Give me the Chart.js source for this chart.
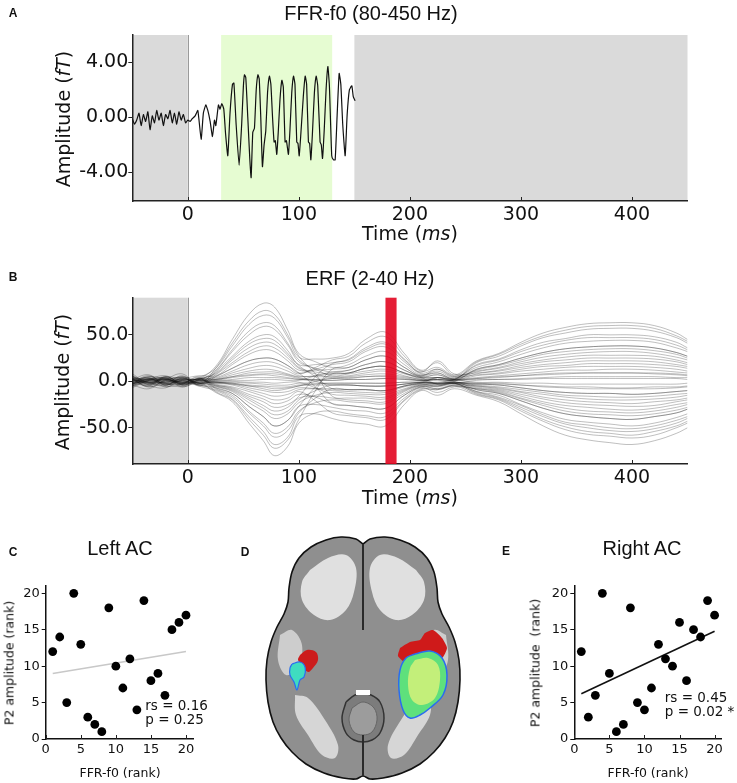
<!DOCTYPE html>
<html>
<head>
<meta charset="utf-8">
<script src="https://cdn.jsdelivr.net/npm/chart.js@4.4.1/dist/chart.umd.min.js"></script>
<style>
  body { margin: 0; background: #fff; }
  #fig { position: relative; width: 737px; height: 783px; overflow: hidden; }
  canvas { position: absolute; }
  .t { position: absolute; transform: translate(-50%, -50%); white-space: nowrap; color: #111; }
  .rot { transform: translate(-50%, -50%) rotate(-90deg); }
  .letter { font: bold 12px 'Liberation Sans', Arial, sans-serif; }
  .title { font: 20px 'Liberation Sans', Arial, sans-serif; }
  .ax { font: 19px 'DejaVu Sans', sans-serif; }
  .axs { font: 12.5px 'DejaVu Sans', sans-serif; }
</style>
</head>
<body>
<div id="fig">
  <canvas id="cA" style="left:0;top:0" width="737" height="250"></canvas>
  <canvas id="cB" style="left:0;top:250px" width="737" height="280"></canvas>
  <canvas id="cC" style="left:0;top:520px" width="245" height="263"></canvas>
  <canvas id="cD" style="left:250px;top:530px" width="240" height="253"></canvas>
  <canvas id="cE" style="left:490px;top:520px" width="247" height="263"></canvas>

  <div class="t letter" style="left:13px;top:13px">A</div>
  <div class="t title" style="left:371px;top:13px">FFR-f0 (80-450 Hz)</div>
  <div class="t ax rot" style="left:63px;top:119px">Amplitude (<i>fT</i>)</div>
  <div class="t ax" style="left:410px;top:233px">Time (<i>ms</i>)</div>

  <div class="t letter" style="left:13px;top:277px">B</div>
  <div class="t title" style="left:370px;top:278px">ERF (2-40 Hz)</div>
  <div class="t ax rot" style="left:62px;top:382px">Amplitude (<i>fT</i>)</div>
  <div class="t ax" style="left:410px;top:497px">Time (<i>ms</i>)</div>

  <div class="t letter" style="left:13px;top:552px">C</div>
  <div class="t title" style="left:120px;top:548px">Left AC</div>
  <div class="t axs rot" style="left:9px;top:663px">P2 amplitude (rank)</div>
  <div class="t axs" style="left:120px;top:772px">FFR-f0 (rank)</div>

  <div class="t letter" style="left:245px;top:552px">D</div>

  <div class="t letter" style="left:506px;top:551px">E</div>
  <div class="t title" style="left:642px;top:548px">Right AC</div>
  <div class="t axs rot" style="left:535px;top:663px">P2 amplitude&nbsp; (rank)</div>
  <div class="t axs" style="left:648px;top:772px">FFR-f0 (rank)</div>
</div>

<script>
// ── Panel A: FFR-f0 grand average (ms, fT) ──
const ffrTime = [-50,-48,-46,-44,-42,-40,-38,-36,-34,-32,-30,-28,-26,-24,-22,-20,-18,-16,-14,-12,-10,-8,-6,-4,-2,0,
  2,4,6.6,9,12,14,16.2,18,20.1,22.2,24,25.2,27.6,29,30.6,32.4,34,36,38,40.2,41.5,43.5,46.2,48.5,
  50,51,52.2,54,55.8,57,58.5,60,61.6,63.1,64.3,65.7,67.2,68.7,70.2,71.8,73.5,74.8,76.3,77.7,
  78.8,80.1,81.5,83,84.7,86,87.6,88.8,90.6,92,93.6,95.2,96.5,98.1,99.2,100.3,101.8,104,105.7,107,
  108.6,109.7,110.8,112.2,114,115.6,117,119.1,120.2,121.3,122.8,124.5,126.1,127.5,129.6,131.2,132.7,134.5,136.3,137.8,
  139.5,141.7,143.5,145.5,147.7,149,150.7];
const ffrAmp = [-0.1,-0.5,-0.2,0.3,-0.6,0.2,-0.3,0.4,-0.9,0.1,-0.4,0.5,-0.2,0.3,-0.6,0.2,-0.1,0.5,-0.4,0.3,-0.5,0.4,-0.2,0.2,-0.4,-0.2,
  -0.3,-0.1,0.1,0.5,-1.6,0.3,0.9,0.5,-0.3,-1.4,-0.2,-0.6,0.9,0.6,1.0,0.6,-1.2,-2.8,0.3,2.4,2.5,-0.5,-3.5,-0.5,
  2.2,3.1,2.9,0,-3.0,-4.4,-1.1,-0.8,2.0,3.1,2.8,0,-3.6,-2.0,-1.0,1.8,3.0,2.4,0,-1.8,
  -1.7,-2.7,-1.0,1.3,2.7,2.2,-1.8,-1.7,-2.7,-0.9,1.8,3.0,2.4,-1.8,-1.9,-2.8,-1.2,1.5,3.0,2.4,
  -1.8,-1.9,-3.1,-1.2,1.8,3.0,2.3,-1.8,-2.0,-3.0,-1.0,2.0,3.7,2.3,-2.8,-3.1,-3.1,0.2,3.2,2.4,
  -0.5,-2.8,0.2,2.0,2.3,1.5,1.2];
const ffrYTicks = [-4, 0, 4];

// ── Panel B: ERF, one array per sensor (fT) ──
const erfTime = [-50,-35,-20,-5,10,25,40,55,68,78,90,100,115,130,145,160,178,195,210,225,240,260,280,300,320,340,360,380,400,420,440,450];
const erfChannels = [
  [4,-3,5,2,3,16,45,72,84,80,55,30,21,15,18,27,32,18,7,11,4,15,21,29,36,41,43,44,44,42,36,32],
  [-3,5,-2,-6,-2,-12,-22,-45,-64,-80,-70,-45,-34,-32,-35,-37,-38,-20,-8,-9,-5,-14,-20,-32,-43,-52,-57,-59,-61,-58,-50,-45],
  [-5,2,6,-3,4,14,38,61,71,68,47,26,24,25,30,45,53,30,12,20,7,22,30,42,52,58,62,63,63,60,52,45],
  [6,-4,-7,3,-5,-10,-19,-38,-54,-68,-60,-38,-35,-40,-44,-46,-48,-25,-10,-15,-8,-15,-22,-35,-48,-58,-63,-66,-68,-64,-56,-50],
  [2,7,-4,5,-1,11,32,50,59,56,39,21,14,10,12,18,21,12,5,7,2,12,17,23,29,32,34,35,35,33,29,25],
  [-7,1,4,-5,3,-8,-15,-32,-45,-56,-49,-32,-23,-20,-22,-23,-24,-13,-5,-6,-3,-9,-13,-21,-29,-35,-38,-40,-41,-38,-34,-30],
  [3,-6,2,8,-4,10,27,43,50,48,33,18,18,20,24,36,42,24,10,22,8,9,12,17,21,23,25,25,25,24,21,18],
  [-2,6,-5,-3,5,-7,-13,-27,-38,-48,-42,-27,-25,-28,-31,-32,-34,-18,-7,-12,-6,-8,-11,-18,-24,-29,-32,-33,-34,-32,-28,-25],
  [8,-2,3,-6,2,8,23,36,42,40,28,15,10,8,9,14,16,9,4,4,2,20,27,38,47,52,56,57,57,54,47,41],
  [-4,-8,1,4,-3,-6,-11,-23,-32,-40,-35,-23,-15,-12,-13,-14,-14,-8,-3,-3,-2,-13,-19,-30,-41,-49,-54,-56,-58,-54,-48,-43],
  [1,4,-6,2,6,6,18,29,34,32,22,12,12,13,15,23,27,15,6,13,5,7,9,13,16,17,19,19,19,18,16,14],
  [5,-1,3,-4,-2,-5,-9,-18,-26,-32,-28,-18,-16,-18,-20,-21,-22,-11,-5,-8,-4,-5,-8,-12,-17,-20,-22,-23,-24,-22,-20,-18],
  [-3,2,-1,5,-5,5,14,22,25,24,17,9,13,18,21,32,37,21,8,9,3,17,23,32,39,44,47,47,47,45,39,34],
  [2,-5,4,-1,3,-4,-7,-14,-19,-24,-21,-14,-17,-24,-26,-28,-29,-15,-6,-5,-2,-11,-15,-25,-34,-41,-44,-46,-48,-45,-39,-35],
  [-1,3,-4,1,2,3,9,14,17,16,11,6,5,5,6,9,11,6,2,4,2,10,14,19,23,26,28,28,28,27,23,20],
  [3,-2,2,-3,-1,-2,-4,-9,-13,-16,-14,-9,-8,-8,-9,-9,-10,-5,-2,-3,-2,-6,-9,-14,-19,-23,-25,-26,-27,-26,-22,-20],
  [-2,1,3,-2,0,2,7,11,13,12,8,5,6,8,9,14,16,9,4,7,2,3,5,6,8,9,9,9,9,9,8,7],
  [1,-3,0,2,-2,-2,-3,-7,-10,-12,-11,-7,-8,-10,-11,-12,-12,-6,-3,-5,-2,-3,-4,-7,-10,-12,-13,-13,-14,-13,-11,-10],
  [0,2,-1,1,-1,1,4,6,7,6,4,2,2,3,3,5,5,3,1,2,1,2,2,3,4,5,5,5,5,5,4,4],
  [-1,-1,2,0,1,-1,-2,-4,-5,-6,-6,-4,-4,-4,-4,-5,-5,-3,-1,-2,-1,-2,-2,-4,-5,-6,-6,-7,-7,-6,-6,-5],
  [-4,3,-2,6,-3,14,41,65,76,72,50,27,8,-16,-18,-18,-19,-10,-4,-5,-2,-7,-10,-16,-22,-26,-28,-30,-31,-29,-25,-23],
  [3,-4,5,-2,4,-11,-20,-41,-58,-72,-63,-41,-10,13,15,23,27,15,6,9,3,13,18,25,31,35,37,38,38,36,31,27],
  [-6,1,4,-3,2,9,25,40,46,44,30,17,5,-8,-9,-9,-10,-5,-2,4,2,18,24,34,42,46,50,50,50,48,42,36],
  [5,-2,-4,3,-4,-7,-13,-27,-38,-48,-42,-27,-6,8,9,14,16,9,4,-3,-2,-11,-17,-26,-36,-44,-47,-50,-51,-48,-42,-38],
  [-3,5,2,-4,1,5,14,22,25,24,17,9,-6,-24,-26,-28,-29,-15,-6,-8,-4,-12,-18,-28,-38,-46,-50,-53,-54,-51,-45,-40],
  [2,-6,1,4,-2,-4,-8,-16,-22,-28,-25,-16,5,19,23,34,40,23,9,13,5,21,29,40,49,55,59,60,60,57,49,43],
  [1,0,-2,1,2,1,2,4,4,4,3,2,1,1,2,2,3,2,1,2,1,6,8,11,13,15,16,16,16,15,13,11],
  [-2,1,1,-1,-1,-1,-1,-2,-3,-4,-4,-2,-2,-2,-2,-2,-2,-1,-1,-2,-1,-4,-6,-9,-12,-15,-16,-17,-17,-16,-14,-13],
  [3,-1,-3,2,1,2,5,9,10,10,7,4,0,-4,-4,-5,-5,-3,-1,-2,-1,-2,-3,-4,-6,-7,-8,-8,-8,-8,-7,-6],
  [-3,2,1,-2,0,-1,-2,-5,-6,-8,-7,-5,0,3,4,5,6,4,1,2,1,3,4,6,7,8,9,9,9,8,7,6],
  [6,-1,-5,4,2,12,34,54,63,60,41,23,13,6,8,11,13,8,3,2,1,8,11,15,18,20,22,22,22,21,18,16],
  [-5,3,2,-1,-4,-9,-17,-34,-48,-60,-53,-34,-18,-8,-9,-9,-10,-5,-2,-2,-1,-5,-7,-11,-14,-17,-19,-20,-20,-19,-17,-15],
  [0,4,-3,-2,3,4,11,18,21,20,14,8,15,23,27,41,48,27,11,15,6,11,15,21,26,29,31,32,32,30,26,23],
  [2,-2,5,-4,1,-3,-6,-11,-16,-20,-18,-11,-21,-34,-37,-39,-41,-21,-9,-9,-5,-8,-12,-19,-26,-32,-35,-36,-37,-35,-31,-28],
  [-2,-4,3,1,-3,7,20,32,38,36,25,14,8,4,5,7,8,5,2,-3,-2,-3,-4,-7,-10,-12,-13,-13,-14,-13,-11,-10],
  [4,1,-2,-3,2,-5,-10,-20,-29,-36,-32,-20,-10,-4,-4,-5,-5,-3,-1,4,2,4,6,8,10,12,12,13,13,12,10,9],
  [-1,3,0,-2,1,0,1,1,2,2,1,1,6,10,12,18,21,12,5,4,2,-1,-1,-2,-2,-3,-3,-3,-3,-3,-3,-2],
  [2,-1,-1,3,-2,0,0,-1,-1,-2,-1,-1,-7,-14,-15,-16,-17,-9,-4,-3,-2,1,2,2,3,3,3,3,3,3,3,2],
  [-4,0,2,-1,3,2,5,7,8,8,6,3,2,1,2,2,3,2,1,1,0,13,18,25,31,35,37,38,38,36,31,27],
  [3,2,-3,0,-2,-1,-3,-5,-8,-10,-8,-5,-3,-2,-2,-2,-2,-1,-1,-1,0,-9,-13,-21,-29,-35,-38,-40,-41,-38,-34,-30]
];
const erfYTicks = [-50, 0, 50];
const timeTicks = [0, 100, 200, 300, 400];

// analysis windows (ms)
const baselineWin = [-50, 0];
const ffrWin = [30, 130];
const postWin = [150, 450];
const p2Win = [178, 188];

// ── Panels C and E: rank correlations ──
const ffrRank = [1,2,3,4,5,6,7,8,9,10,11,12,13,14,15,16,17,18,19,20];
const leftP2Rank = [12,14,5,20,13,3,2,1,18,10,7,11,4,19,8,9,6,15,16,17];
const rightP2Rank = [12,3,6,20,9,1,2,18,5,4,7,13,11,10,16,8,15,14,19,17];
const fitX = [1, 20];
const leftFitY = [9.0, 12.0];
const rightFitY = [6.2, 14.8];
const rankTicks = [0, 5, 10, 15, 20];
const leftStats = ['rs = 0.16', 'p = 0.25'];
const rightStats = ['rs = 0.45', 'p = 0.02 *'];

// ── Panel D: axial slice outline and clusters (image pixels) ──
const brainX = [113,120,135,150,165,177,184,187,188,192,199,205,209,210,208,203,195,184,170,152,133,120,113,106,93,74,56,42,31,23,18,16,17,21,27,34,38,39,42,49,61,76,91,106,113];
const brainY = [14,9,7,10,17,28,42,58,72,84,97,112,130,150,172,192,208,222,234,243,248,249,246,249,248,243,234,222,208,192,172,150,130,112,97,84,72,58,42,28,17,10,7,9,14];
const wmLeftX = [60,78,96,106,104,96,80,64,52,52,60];
const wmLeftY = [40,28,25,38,62,80,90,85,70,52,40];
const wmRightX = [166,148,130,120,122,130,146,162,174,174,166];
const wmRightY = [40,28,25,38,62,80,90,85,70,52,40];
const wmTempLX = [30,42,52,48,36,28,30];
const wmTempLY = [105,100,115,138,145,130,105];
const wmTempRX = [196,184,174,178,190,198,196];
const wmTempRY = [105,100,115,138,145,130,105];
const wmOccLX = [45,58,75,88,85,72,58,46,45];
const wmOccLY = [165,168,190,215,228,225,205,185,165];
const wmOccRX = [181,168,151,138,141,154,168,180,181];
const wmOccRY = [165,168,190,215,228,225,205,185,165];
const midbrainX = [96,105,113,121,130,134,130,122,113,104,96,92,96];
const midbrainY = [172,165,164,165,172,188,203,210,212,210,203,188,172];
const midInnerX = [102,113,124,127,122,113,104,99,102];
const midInnerY = [178,172,178,190,202,205,202,190,178];
const fissureTopX = [113,113];
const fissureTopY = [14,100];
const fissureBotX = [113,113];
const fissureBotY = [205,246];
const notchX = [106,120,120,106,106];
const notchY = [160,160,165,165,160];
const redLX = [50,57,66,68,63,58,52,48,50];
const redLY = [125,120,122,130,138,142,135,130,125];
const cyanLX = [42,50,55,54,50,47,44,40,40,42];
const cyanLY = [134,132,137,147,150,160,152,145,138,134];
const redRX = [150,160,170,175,183,192,197,192,180,165,155,148,150];
const redRY = [118,112,110,103,100,108,118,128,125,128,132,126,118];
const greenRX = [165,180,192,197,193,180,170,160,153,149,150,156,165];
const greenRY = [124,121,128,145,165,178,185,188,180,160,140,128,124];
const yellowRX = [165,178,188,190,185,172,162,158,160,165];
const yellowRY = [130,128,135,150,168,175,170,155,138,130];

const xy = (xs, ys) => xs.map((x, i) => ({x, y: ys[i]}));

// ── plugins ──
// shaded windows go under the axes; the P2 window sits over the traces
const bands = {
  id: 'bands',
  beforeDraw(chart, args, opts) {
    const {ctx, chartArea: {top, bottom}, scales: {x}} = chart;
    ctx.save();
    (opts.under || []).forEach(b => {
      const x0 = x.getPixelForValue(b.range[0]), x1 = x.getPixelForValue(b.range[1]);
      ctx.fillStyle = b.color;
      ctx.fillRect(x0, top, x1 - x0, bottom - top);
    });
    const z = Math.round(x.getPixelForValue(0)) + 0.5;
    ctx.strokeStyle = '#9a9a9a'; ctx.lineWidth = 1;
    ctx.beginPath(); ctx.moveTo(z, top); ctx.lineTo(z, bottom); ctx.stroke();
    ctx.restore();
  },
  afterDatasetsDraw(chart, args, opts) {
    const {ctx, chartArea: {top, bottom}, scales: {x}} = chart;
    ctx.save();
    (opts.over || []).forEach(b => {
      const x0 = x.getPixelForValue(b.range[0]), x1 = x.getPixelForValue(b.range[1]);
      ctx.fillStyle = b.color;
      ctx.fillRect(x0, top, x1 - x0, bottom - top);
    });
    ctx.restore();
  }
};

const innerTicks = {
  id: 'innerTicks',
  defaults: { len: 4 },
  afterDraw(chart, args, opts) {
    const {ctx, chartArea, scales: {x}} = chart;
    ctx.save();
    ctx.strokeStyle = '#222'; ctx.lineWidth = 1;
    x.ticks.forEach(t => {
      const px = Math.round(x.getPixelForValue(t.value)) + 0.5;
      ctx.beginPath(); ctx.moveTo(px, chartArea.bottom); ctx.lineTo(px, chartArea.bottom - opts.len); ctx.stroke();
    });
    ctx.restore();
  }
};

const statText = {
  id: 'statText',
  afterDatasetsDraw(chart, args, opts) {
    if (!opts.lines) return;
    const {ctx, scales: {x, y}} = chart;
    ctx.save();
    ctx.font = "13.5px 'DejaVu Sans'";
    ctx.fillStyle = '#111'; ctx.textAlign = 'left'; ctx.textBaseline = 'middle';
    opts.lines.forEach((l, i) => ctx.fillText(l, x.getPixelForValue(opts.x), y.getPixelForValue(opts.y[i])));
    ctx.restore();
  }
};

const waveFont = { family: 'DejaVu Sans', size: 19 };
const rankFont = { family: 'DejaVu Sans', size: 13 };

function waveOptions(padTop, axisH, yMin, yMax, yTicks, digits, under, over) {
  return {
    responsive: false, animation: false,
    layout: { padding: { top: padTop, right: 49.5, left: 0, bottom: 0 } },
    plugins: { legend: { display: false }, tooltip: { enabled: false }, bands: { under, over } },
    scales: {
      x: {
        type: 'linear', min: -50, max: 450,
        afterBuildTicks: s => { s.ticks = timeTicks.map(v => ({value: v})); },
        afterFit: s => { s.height = axisH; },
        grid: { display: false, drawTicks: false },
        border: { display: true, color: '#222', width: 1.5 },
        ticks: { font: waveFont, color: '#111', padding: 3, maxRotation: 0 }
      },
      y: {
        min: yMin, max: yMax,
        afterBuildTicks: s => { s.ticks = yTicks.map(v => ({value: v})); },
        afterFit: s => { s.width = 132.3; },
        grid: { display: true, drawOnChartArea: false, drawTicks: true, tickLength: 4, color: '#222' },
        border: { display: true, color: '#222', width: 1.5 },
        ticks: { font: waveFont, color: '#111', padding: 0, callback: v => v.toFixed(digits) }
      }
    }
  };
}

// A
new Chart(document.getElementById('cA'), {
  type: 'scatter',
  data: { datasets: [{
    data: xy(ffrTime, ffrAmp), showLine: true, borderColor: '#111', borderWidth: 1.2,
    pointRadius: 0, tension: 0.15
  }] },
  options: waveOptions(35, 49, -6.1, 6, ffrYTicks, 2, [
    { range: baselineWin, color: '#dadada' },
    { range: ffrWin, color: '#e6fcd2' },
    { range: postWin, color: '#dadada' }
  ], []),
  plugins: [bands, innerTicks]
});

// B
new Chart(document.getElementById('cB'), {
  type: 'scatter',
  data: { datasets: erfChannels.map(ch => ({
    data: xy(erfTime, ch), showLine: true, borderColor: 'rgba(20,20,20,0.34)', borderWidth: 0.8,
    pointRadius: 0, tension: 0.4
  })) },
  options: waveOptions(47.7, 66, -89, 90, erfYTicks, 1,
    [{ range: baselineWin, color: '#dadada' }],
    [{ range: p2Win, color: 'rgba(226,6,32,0.9)' }]),
  plugins: [bands, innerTicks]
});

// C and E
function rankChart(id, p2, fitY, yAxisW, padRight, stats, fitColor) {
  new Chart(document.getElementById(id), {
    type: 'scatter',
    data: { datasets: [
      { data: xy(ffrRank, p2), pointRadius: 4.4, pointHoverRadius: 4.4, backgroundColor: '#000', borderWidth: 0, order: 1 },
      { data: xy(fitX, fitY), showLine: true, pointRadius: 0, borderColor: fitColor, borderWidth: 1.6, order: 2 }
    ] },
    options: {
      responsive: false, animation: false,
      layout: { padding: { top: 66, right: padRight, left: 0, bottom: 0 } },
      plugins: { legend: { display: false }, tooltip: { enabled: false }, statText: stats },
      scales: {
        x: {
          type: 'linear', min: 0, max: 21,
          afterBuildTicks: s => { s.ticks = rankTicks.map(v => ({value: v})); },
          afterFit: s => { s.height = 44; },
          grid: { display: false, drawTicks: false },
          border: { display: true, color: '#111', width: 1.5 },
          ticks: { font: rankFont, color: '#111', padding: 3, maxRotation: 0 }
        },
        y: {
          min: 0, max: 21,
          afterBuildTicks: s => { s.ticks = rankTicks.map(v => ({value: v})); },
          afterFit: s => { s.width = yAxisW; },
          grid: { display: true, drawOnChartArea: false, drawTicks: true, tickLength: 4, color: '#111' },
          border: { display: true, color: '#111', width: 1.5 },
          ticks: { font: rankFont, color: '#111', padding: 2 }
        }
      }
    },
    plugins: [innerTicks, statText]
  });
}
rankChart('cC', leftP2Rank, leftFitY, 45.7, 52, { lines: leftStats, x: 14.2, y: [4.5, 2.6] }, '#c8c8c8');
rankChart('cE', rightP2Rank, rightFitY, 84.3, 15.4, { lines: rightStats, x: 12.9, y: [5.5, 3.6] }, '#111');

// D
const shape = (xs, ys, fill, order, extra) => Object.assign({
  data: xy(xs, ys), showLine: true, fill: 'shape', backgroundColor: fill,
  borderWidth: 0, borderColor: fill, pointRadius: 0, tension: 0.35, order
}, extra || {});
new Chart(document.getElementById('cD'), {
  type: 'scatter',
  data: { datasets: [
    shape(brainX, brainY, '#8f8f8f', 20, { borderColor: '#111', borderWidth: 1.6, tension: 0.3 }),
    shape(wmLeftX, wmLeftY, '#e0e0e0', 19),
    shape(wmRightX, wmRightY, '#e0e0e0', 19),
    shape(wmTempLX, wmTempLY, '#cdcdcd', 19),
    shape(wmTempRX, wmTempRY, '#cdcdcd', 19),
    shape(wmOccLX, wmOccLY, '#d6d6d6', 19),
    shape(wmOccRX, wmOccRY, '#d6d6d6', 19),
    shape(midbrainX, midbrainY, '#7c7c7c', 18, { borderColor: '#333', borderWidth: 1.5 }),
    shape(midInnerX, midInnerY, '#9c9c9c', 17, { borderColor: '#666', borderWidth: 1 }),
    { data: xy(fissureTopX, fissureTopY), showLine: true, borderColor: '#2a2a2a', borderWidth: 2, pointRadius: 0, order: 16 },
    { data: xy(fissureBotX, fissureBotY), showLine: true, borderColor: '#2a2a2a', borderWidth: 2, pointRadius: 0, order: 16 },
    shape(notchX, notchY, '#ffffff', 15, { tension: 0 }),
    shape(redLX, redLY, '#cc1c1c', 14),
    shape(cyanLX, cyanLY, '#3fdcc0', 13, { borderColor: '#2a6cf0', borderWidth: 1.2 }),
    shape(redRX, redRY, '#cf1a1a', 12, { tension: 0.2 }),
    shape(greenRX, greenRY, '#5ee07c', 11, { borderColor: '#2a6cf0', borderWidth: 1.5 }),
    shape(yellowRX, yellowRY, '#c3ef7a', 10)
  ] },
  options: {
    responsive: false, animation: false,
    layout: { padding: 0 },
    plugins: { legend: { display: false }, tooltip: { enabled: false } },
    scales: {
      x: { display: false, min: 0, max: 240 },
      y: { display: false, min: 0, max: 253, reverse: true }
    }
  }
});
</script>
</body>
</html>
